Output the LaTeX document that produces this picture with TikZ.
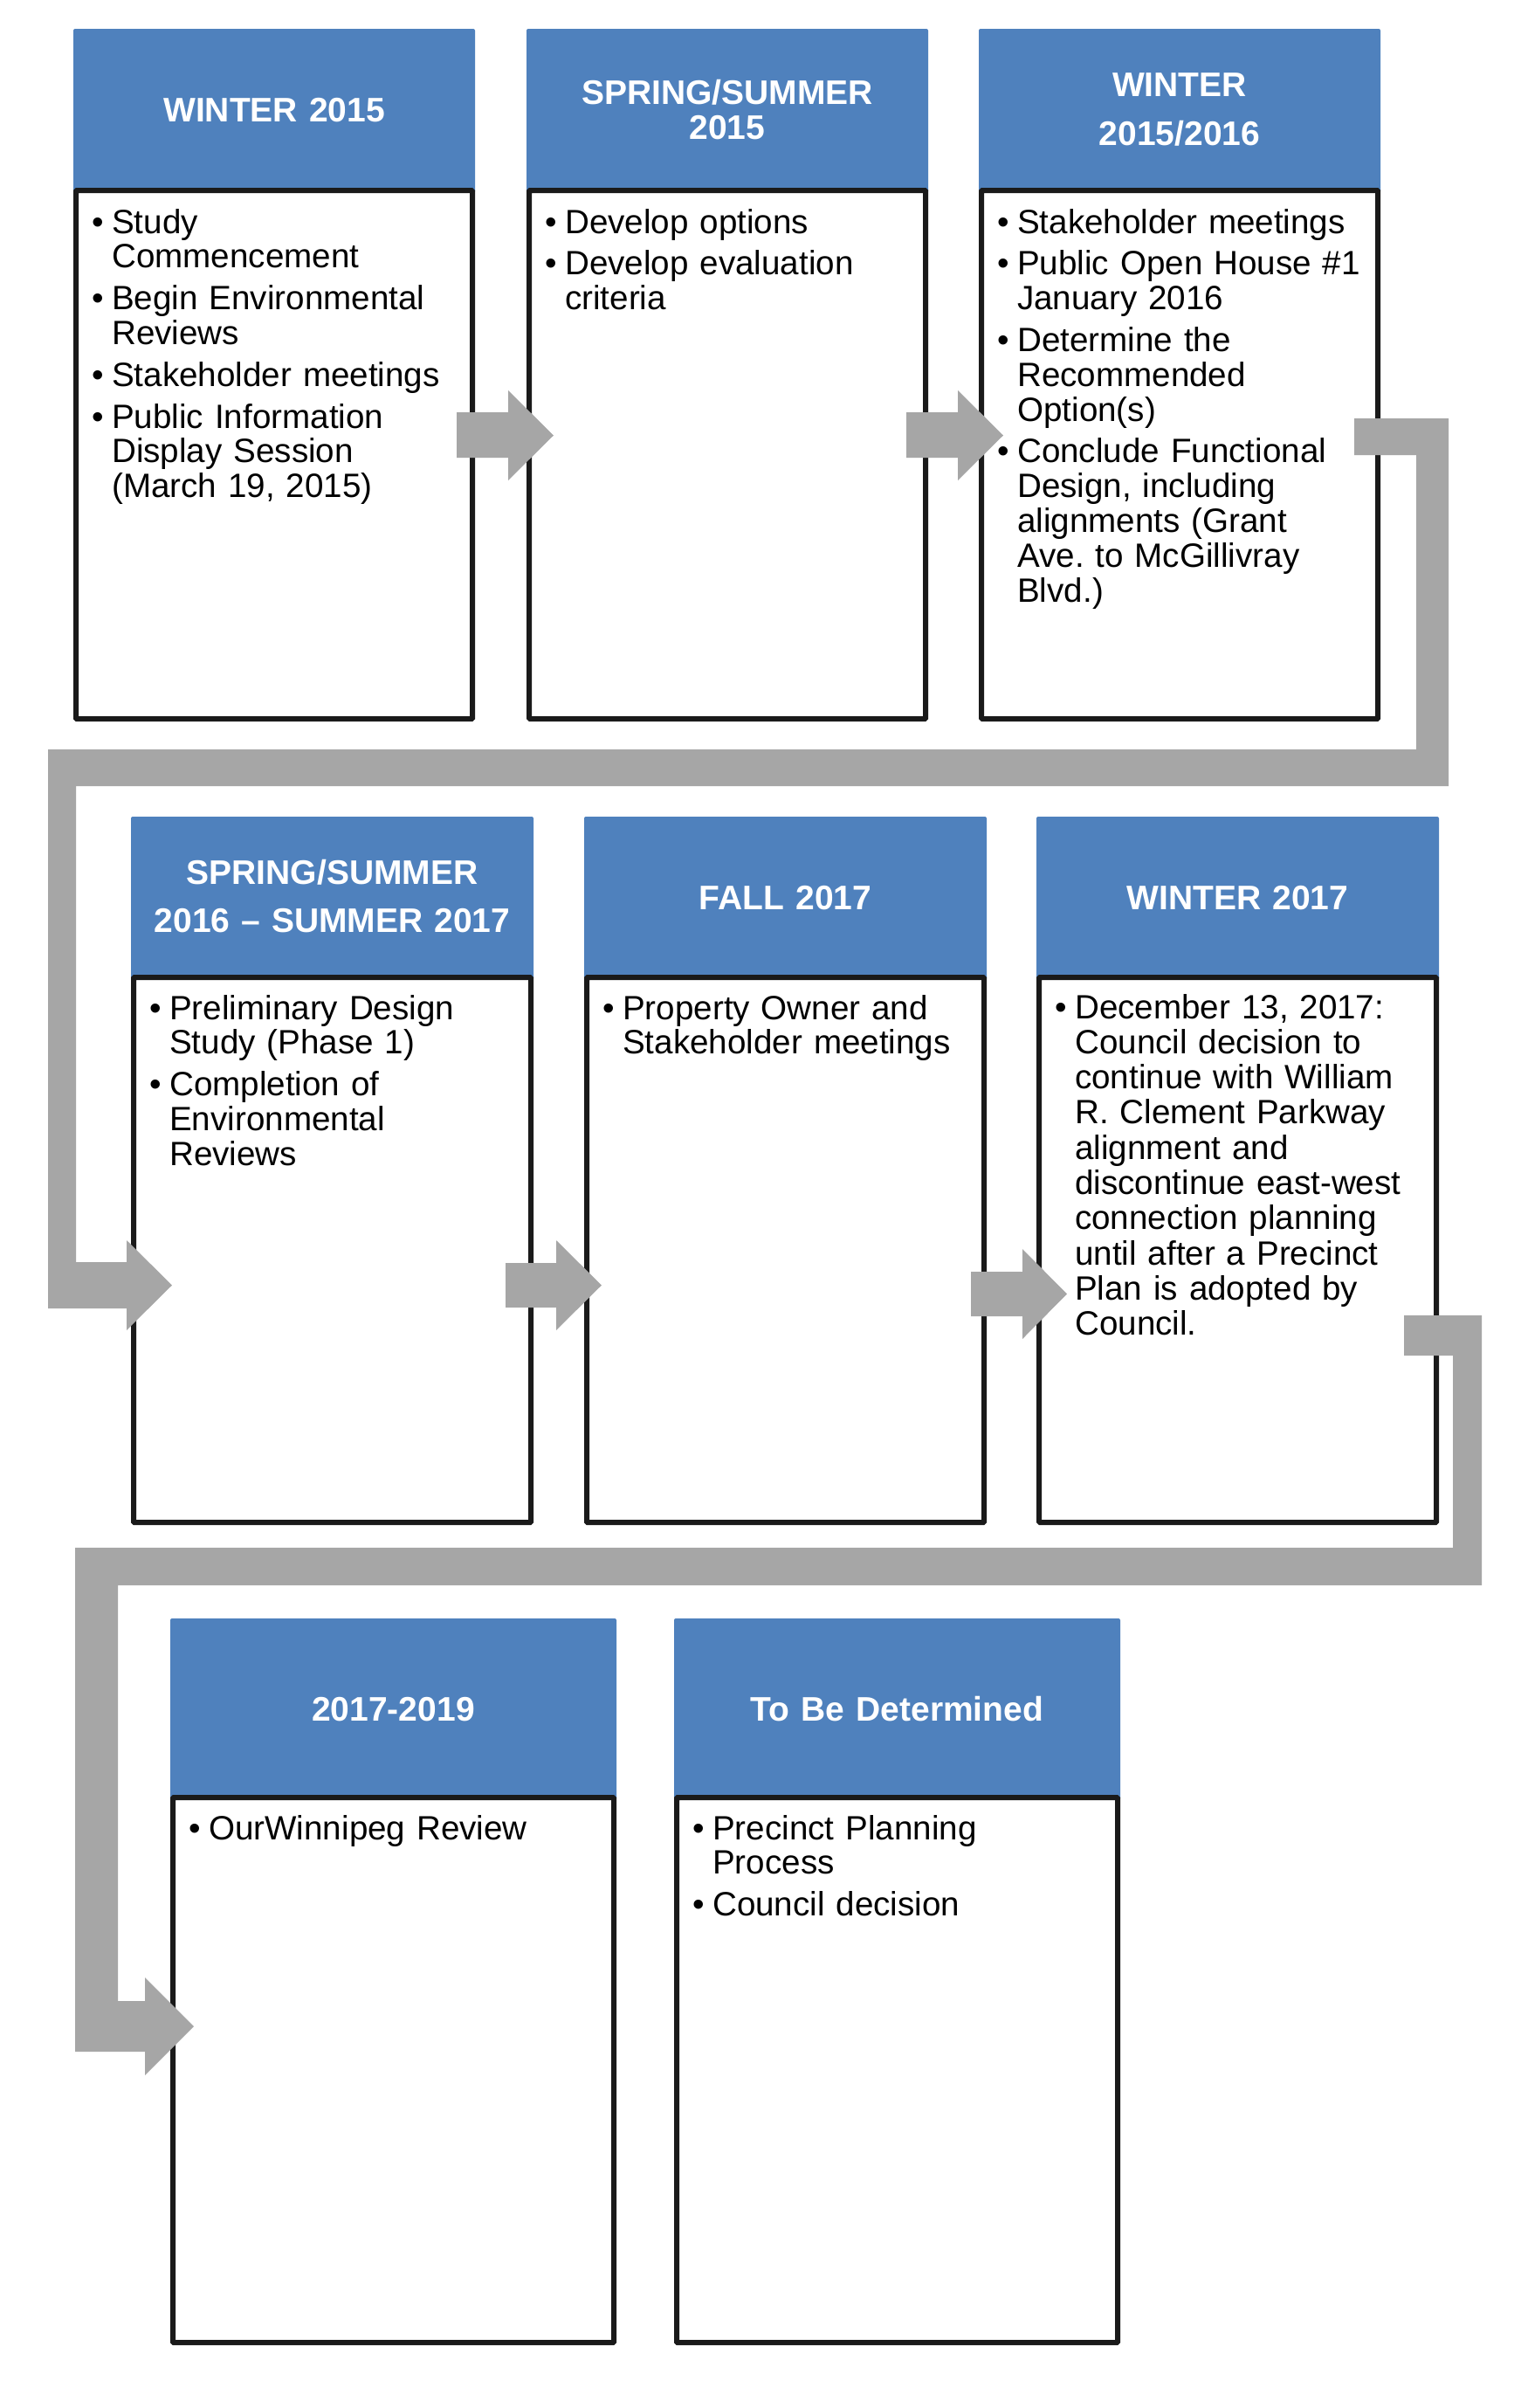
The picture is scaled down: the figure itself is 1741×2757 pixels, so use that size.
\documentclass[tikz,border=0pt]{standalone}
\usepackage{fontspec}
\setmainfont{Liberation Sans}
\frenchspacing
\definecolor{hdrblue}{HTML}{4F81BD}
\definecolor{arrgray}{HTML}{A6A6A6}
\definecolor{linebk}{HTML}{1A1A1A}
\newcommand{\bul}{\makebox[23pt][l]{\textbullet}}
\newcommand{\ind}{\hspace*{23pt}}
\tikzset{
  hdrfill/.style={fill=hdrblue, rounded corners=2pt},
  bodybox/.style={draw=linebk, line width=6pt, fill=white, rounded corners=1pt},
  flowarrow/.style={fill=arrgray},
  hdrtext/.style={anchor=base, text=white, font=\fontsize{39}{40}\selectfont\bfseries\frenchspacing, align=center, inner sep=0pt, text width=500pt},
  bodytext/.style={anchor=base west, font=\fontsize{38.6}{39.8}\selectfont\frenchspacing, align=left, inner sep=0pt, text width=480pt}
}
\begin{document}
\begin{tikzpicture}[x=1pt,y=-1pt]
\useasboundingbox (0,0) rectangle (1741,2757);
\fill[white] (0,0) rectangle (1741,2757);
% ---------- headers ----------
\foreach \L in {84,603,1121} { \fill[hdrfill] (\L,33) rectangle (\L+460,221); }
\foreach \L in {150,669,1187} { \fill[hdrfill] (\L,935) rectangle (\L+461,1122); }
\foreach \L in {195,772} { \fill[hdrfill] (\L,1853) rectangle (\L+511,2061); }
% ---------- body boxes ----------
\foreach \L in {84,603,1121} { \draw[bodybox] (\L+3,218) rectangle (\L+457,823); }
\foreach \L in {150,669,1187} { \draw[bodybox] (\L+3,1119) rectangle (\L+458,1743); }
\foreach \L in {195,772} { \draw[bodybox] (\L+3,2058) rectangle (\L+508,2682); }
% ---------- arrows row 1 ----------
\fill[flowarrow] (523,472) -- (582,472) -- (582,447) -- (634,498.5) -- (582,550) -- (582,524) -- (523,524) -- cycle;
\fill[flowarrow] (1038,472) -- (1097,472) -- (1097,447) -- (1149,498.5) -- (1097,550) -- (1097,524) -- (1038,524) -- cycle;
% ---------- connector 1 ----------
\fill[flowarrow] (1551,479) -- (1659,479) -- (1659,900) -- (87,900) -- (87,1445) -- (145,1445) -- (145,1420)
  -- (197,1471.5) -- (145,1523) -- (145,1498) -- (55,1498) -- (55,858) -- (1622,858) -- (1622,521) -- (1551,521) -- cycle;
% ---------- arrows row 2 ----------
\fill[flowarrow] (579,1446) -- (637,1446) -- (637,1420) -- (689,1471.5) -- (637,1523) -- (637,1497) -- (579,1497) -- cycle;
\fill[flowarrow] (1112,1456) -- (1171,1456) -- (1171,1430) -- (1222,1481.5) -- (1171,1533) -- (1171,1507) -- (1112,1507) -- cycle;
% ---------- connector 2 ----------
\fill[flowarrow] (1608,1506) -- (1697,1506) -- (1697,1815) -- (135,1815) -- (135,2291) -- (166,2291) -- (166,2264)
  -- (222,2320) -- (166,2376) -- (166,2349) -- (86,2349) -- (86,1772) -- (1664,1772) -- (1664,1552) -- (1608,1552) -- cycle;
% ---------- header texts ----------
\node[hdrtext] (h1) at (314,139) {WINTER 2015};
\node[hdrtext] (h2) at (833,119) {SPRING/SUMMER\\2015};
\node[hdrtext] (h3) at (1351,110) {WINTER\\[16pt]2015/2016};
\node[hdrtext] (h4) at (380.5,1012) {SPRING/SUMMER\\[15pt]2016 \textendash{} SUMMER 2017};
\node[hdrtext] (h5) at (899.5,1041) {FALL 2017};
\node[hdrtext] (h6) at (1417.5,1041) {WINTER 2017};
\node[hdrtext] (h7) at (450.5,1970) {2017-2019};
\node[hdrtext] (h8) at (1027.5,1970) {To Be Determined};
% ---------- body texts ----------
\node[bodytext] (t1) at (105,267) {\bul Study\\ \ind Commencement\\[8pt]\bul Begin Environmental\\ \ind Reviews\\[8pt]\bul Stakeholder meetings\\[8pt]\bul Public Information\\ \ind Display Session\\ \ind (March 19, 2015)};
\node[bodytext] (t2) at (624,267) {\bul Develop options\\[8pt]\bul Develop evaluation\\ \ind criteria};
\node[bodytext] (t3) at (1142,267) {\bul Stakeholder meetings\\[8pt]\bul Public Open House \#1\\ \ind January 2016\\[8pt]\bul Determine the\\ \ind Recommended\\ \ind Option(s)\\[8pt]\bul Conclude Functional\\ \ind Design, including\\ \ind alignments (Grant\\ \ind Ave. to McGillivray\\ \ind Blvd.)};
\node[bodytext] (t4) at (171,1167) {\bul Preliminary Design\\ \ind Study (Phase 1)\\[8pt]\bul Completion of\\ \ind Environmental\\ \ind Reviews};
\node[bodytext] (t5) at (690,1167) {\bul Property Owner and\\ \ind Stakeholder meetings};
\node[bodytext, font=\fontsize{38.6}{40.3}\selectfont\frenchspacing] (t6) at (1208,1166) {\bul December 13, 2017:\\ \ind Council decision to\\ \ind continue with William\\ \ind R. Clement Parkway\\ \ind alignment and\\ \ind discontinue east-west\\ \ind connection planning\\ \ind until after a Precinct\\ \ind Plan is adopted by\\ \ind Council.};
\node[bodytext] (t7) at (216,2106) {\bul OurWinnipeg Review};
\node[bodytext] (t8) at (793,2106) {\bul Precinct Planning\\ \ind Process\\[8pt]\bul Council decision};
\end{tikzpicture}
\end{document}
